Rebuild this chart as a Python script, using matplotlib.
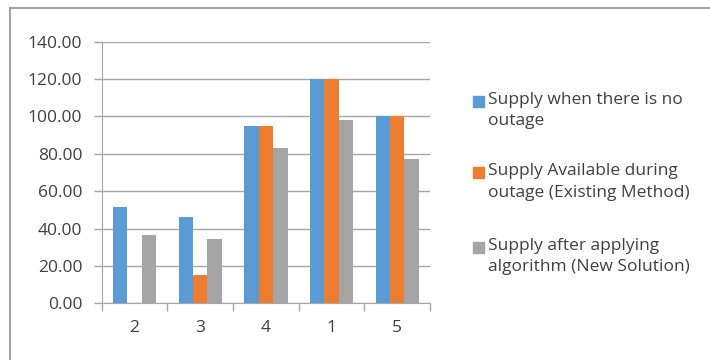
import numpy as np
import matplotlib
matplotlib.use('Agg')
import matplotlib.pyplot as plt
from matplotlib.lines import Line2D
from matplotlib.patches import Rectangle

plt.rcParams['font.family'] = ['Open Sans', 'DejaVu Sans']

categories = ['2', '3', '4', '1', '5']
no_outage = [51.3, 46.0, 95.0, 119.8, 100.3]
existing = [0.0, 15.0, 95.0, 119.8, 100.3]
new_solution = [36.6, 34.2, 82.9, 98.3, 77.0]
labels = ['Supply when there is no\noutage',
          'Supply Available during\noutage (Existing Method)',
          'Supply after applying\nalgorithm (New Solution)']
colors = ['#5B9BD5', '#ED7D31', '#A5A5A5']

W, H = 710, 360
fig = plt.figure(figsize=(7.1, 3.6), dpi=100)
ax = fig.add_axes([101.7 / W, 1 - 303.3 / H, (430 - 101.7) / W, (303.3 - 41.7) / H])

x = np.arange(len(categories))
w = 0.22
for i, (vals, lab, c) in enumerate(zip([no_outage, existing, new_solution], labels, colors)):
    ax.bar(x + (i - 1) * w, vals, w, color=c, label=lab, zorder=3)

ax.set_xlim(-0.5, len(categories) - 0.5)
ax.set_ylim(0, 140)
ax.set_yticks(np.arange(0, 141, 20))
ax.set_yticklabels([f'{v:.2f}' for v in np.arange(0, 141, 20)])
ax.yaxis.grid(True, color='#A6A6A6', lw=1, zorder=0)
ax.set_xticks(x)
ax.set_xticklabels(categories)
ax.set_xticks(np.arange(-0.5, len(categories)), minor=True)
ax.tick_params(axis='x', which='major', length=0, pad=12, labelsize=12.5, colors='#404040')
ax.tick_params(axis='x', which='minor', length=6, color='#A6A6A6', width=1)
ax.tick_params(axis='y', length=6, color='#A6A6A6', width=1, labelsize=12.5,
               labelcolor='#404040', pad=8)
for s in ['top', 'right']:
    ax.spines[s].set_visible(False)
for s in ['left', 'bottom']:
    ax.spines[s].set_color('#A6A6A6')

# legend: square aligned with first line of each label
leg_y = [101, 172.5, 247]
for yc, lab, c in zip(leg_y, labels, colors):
    fig.add_artist(Rectangle((473 / W, 1 - (yc + 5.5) / H), 11 / W, 11 / H,
                             transform=fig.transFigure, color=c))
    fig.text(488 / W, 1 - (yc - 9) / H, lab, fontsize=12.5, color='#404040',
             va='top', ha='left', linespacing=1.45)

# outer chart border (only left and top visible)
fig.add_artist(Line2D([10 / W, 10 / W], [0, 1 - 8 / H], color='#909090', lw=1.2))
fig.add_artist(Line2D([10 / W, 1], [1 - 8 / H, 1 - 8 / H], color='#909090', lw=1.2))

fig.savefig('out.png', dpi=100)
